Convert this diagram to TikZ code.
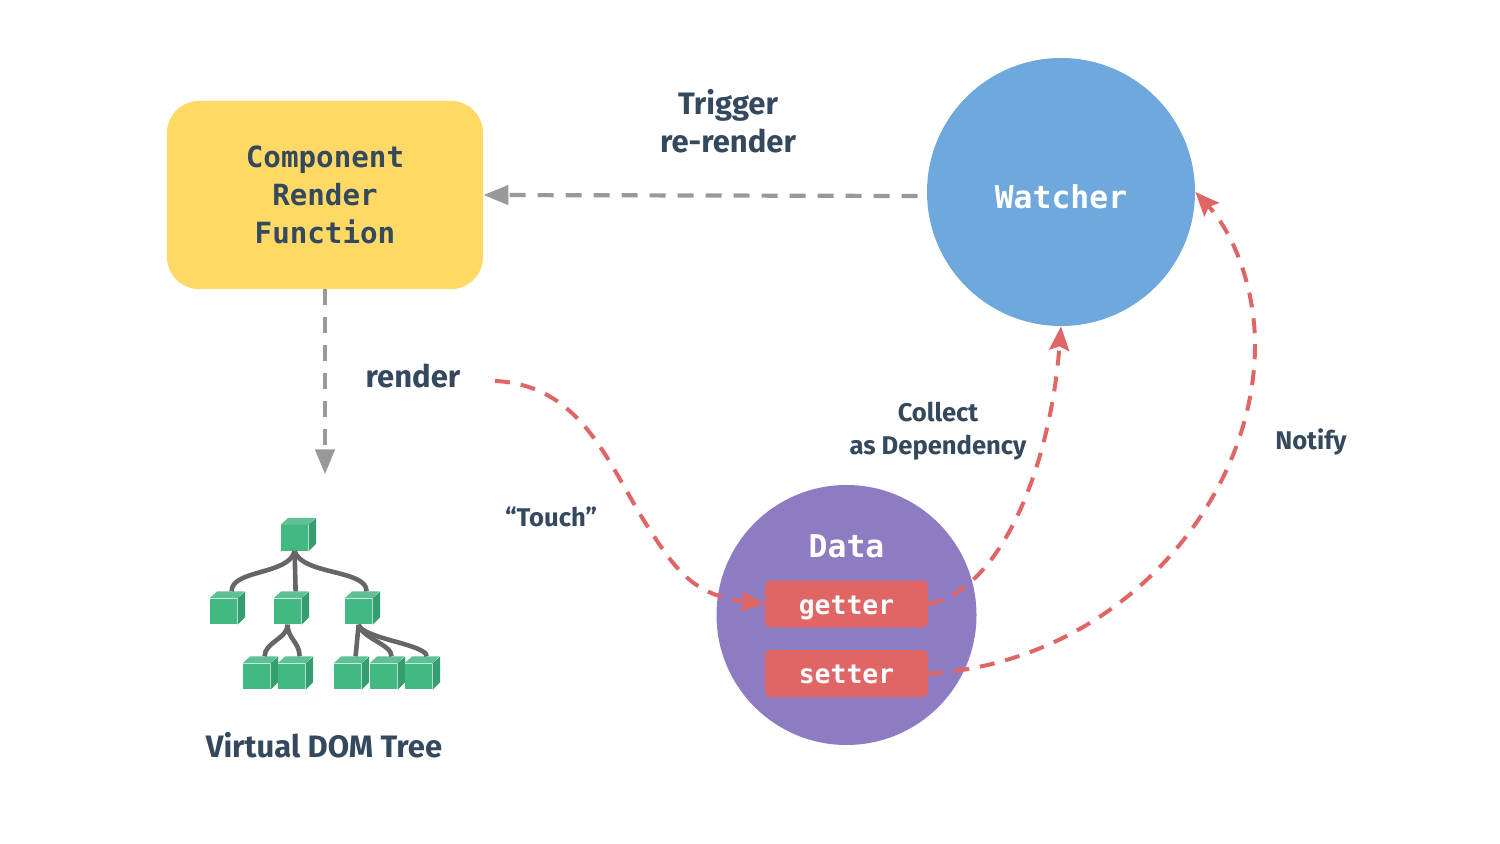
\documentclass[tikz,border=0pt]{standalone}
\usepackage{fontspec}
\setmainfont{Fira Sans}
\setmonofont{DejaVu Sans Mono}
\usetikzlibrary{arrows.meta, positioning}
\definecolor{labelblue}{HTML}{34495E}
\definecolor{renderyellow}{HTML}{FFD966}
\definecolor{watcherblue}{HTML}{6FA8DC}
\definecolor{datapurple}{HTML}{8E7CC3}
\definecolor{accessorred}{HTML}{E06666}
\definecolor{cubegreen}{HTML}{42B983}
\definecolor{cubetop}{HTML}{5FC096}
\definecolor{cubeside}{HTML}{359E6F}
\definecolor{treegrey}{HTML}{666666}
\definecolor{flowgrey}{HTML}{999999}
\tikzstyle{label} = [text = labelblue, font = \bfseries\fontsize{15.5}{19}\selectfont,
  align = center, inner sep = 0]
\tikzstyle{smalllabel} = [label, font = \bfseries\fontsize{12.8}{16.5}\selectfont]
\tikzstyle{ball} = [circle, inner sep = 0]
\tikzstyle{balltitle} = [text = white, inner sep = 0,
  font = \ttfamily\bfseries\fontsize{15.7}{19}\selectfont]
\tikzstyle{accessor} = [
  rectangle, rounded corners = 2.5,
  minimum width = 81.5, minimum height = 23.4, inner sep = 0,
  text height = 10pt, text depth = 0pt,
  fill = accessorred, text = white,
  font = \ttfamily\bfseries\fontsize{13.2}{16}\selectfont
]
\tikzstyle{cube} = [rectangle, minimum width = 13.6, minimum height = 12.8,
  inner sep = 0, fill = cubegreen]
\tikzstyle{branch} = [draw = treegrey, line width = 2.3]
\tikzstyle{flow} = [draw = flowgrey, line width = 2.1, dash pattern = on 8 off 6,
  -{Stealth[length = 12.5, width = 9.5, inset = 0]}]
\tikzstyle{reactive} = [draw = accessorred, line width = 2, dash pattern = on 7.5 off 5.5,
  -{Stealth[length = 12, width = 10, inset = 2]}]
\newcommand{\cubeat}[3]{
  \node [cube] (#1) at (#2, #3) {};
  \fill [cubetop] (#1.north west) -- +(7.6, -7) -- +(34.6, -7) -- (#1.north east) -- cycle;
  \fill [cubeside] (#1.north east) -- +(7.6, -7) -- +(7.6, 19) -- (#1.south east) -- cycle;
  \coordinate (#1-top) at ([xshift = 4, yshift = 3.5]#1.north);
}
\begin{document}
\begin{tikzpicture}[x = 0.5pt, y = -0.5pt]
  \useasboundingbox (0, 0) rectangle (1500, 844);
  % render function
  \node [rectangle, rounded corners = 16, minimum width = 158, minimum height = 94,
    inner sep = 0, fill = renderyellow, text = labelblue, align = center,
    font = \ttfamily\bfseries\fontsize{14.6}{19}\selectfont] (render-fn) at (325, 195)
    {Component\\Render\\Function};
  % watcher
  \node [ball, minimum size = 134, fill = watcherblue] (watcher) at (1061, 192) {};
  \node [balltitle] (watcher-title) at (1061, 197) {Watcher};
  % data
  \node [ball, minimum size = 130, fill = datapurple] (data) at (846.5, 615) {};
  \node [balltitle] (data-title) at (846.5, 546) {Data};
  \node [accessor] (getter) at (846.5, 604) {getter};
  \node [accessor, below = 11pt of getter] (setter) {setter};

  % labels
  \node [label] (trigger) at (728, 121) {Trigger\\re-render};
  \node [label] (render) at (413, 376) {render};
  \node [smalllabel] (collect) at (938, 431) {Collect\\as Dependency};
  \node [smalllabel] (notify) at (1311, 442) {Notify};
  \node [smalllabel] (touch) at (551, 517) {“Touch”};
  \node [label] (tree) at (324, 745) {Virtual DOM Tree};

  % tree 0
  \cubeat{cube-0-a}{294.6}{538}
  % tree 1
  \cubeat{cube-1-a}{223.6}{611.5}
  \cubeat{cube-1-b}{287.6}{611.5}
  \cubeat{cube-1-c}{358.6}{611.5}
  % tree 2
  \cubeat{cube-2-a}{256.6}{676.5}
  \cubeat{cube-2-b}{291.6}{676.5}
  \cubeat{cube-2-c}{347.6}{676.5}
  \cubeat{cube-2-d}{383.6}{676.5}
  \cubeat{cube-2-e}{418.6}{676.5}

  \draw [branch] (cube-0-a.south) .. controls +(-6, 24) and +(0, -22) .. (cube-1-a-top);
  \draw [branch] (cube-0-a.south) -- (cube-1-b-top);
  \draw [branch] (cube-0-a.south) .. controls +(8, 24) and +(0, -22) .. (cube-1-c-top);
  \draw [branch] (cube-1-b.south) .. controls +(0, 14) and +(0, -14) .. (cube-2-a-top);
  \draw [branch] (cube-1-b.south) .. controls +(0, 14) and +(0, -14) .. (cube-2-b-top);
  \draw [branch] (cube-1-c.south) -- (cube-2-c-top);
  \draw [branch] (cube-1-c.south) .. controls +(4, 14) and +(0, -12) .. (cube-2-d-top);
  \draw [branch] (cube-1-c.south) .. controls +(4, 14) and +(0, -12) .. (cube-2-e-top);

  % arrows
  \draw [flow] ([xshift = -4.5pt, yshift = -2pt]watcher.west) -- (render-fn.east);
  \coordinate [below = 92.5pt of render-fn.south] (tree-in);
  \draw [flow] (render-fn.south) -- (tree-in);
  \coordinate (touch-out) at (495, 381);
  \draw [reactive] (touch-out) .. controls (585, 385) and (610, 470) .. (650, 530)
    .. controls (680, 578) and (700, 596) .. (getter.west);
  \draw [reactive] (getter.east) .. controls (1000, 590) and (1050, 470) .. (watcher.south);
  \draw [reactive] (setter.east) .. controls (1120, 662) and (1255, 500) .. (1255, 345)
    .. controls (1255, 290) and (1235, 235) .. (watcher.east);
\end{tikzpicture}
\end{document}
